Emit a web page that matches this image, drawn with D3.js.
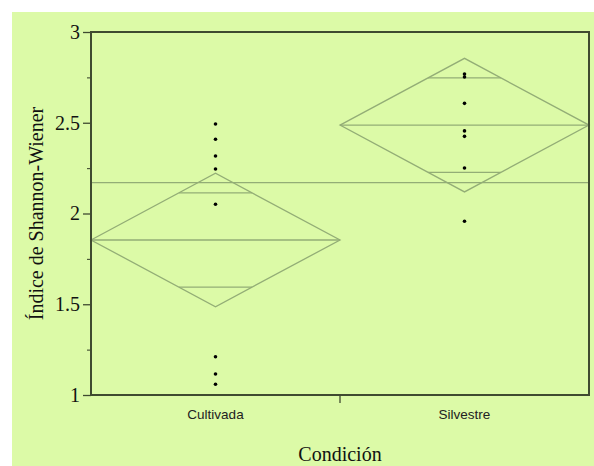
<!DOCTYPE html>
<html>
<head>
<meta charset="utf-8">
<script src="https://cdn.jsdelivr.net/npm/d3@7"></script>
<style>
  html, body { margin: 0; padding: 0; background: #ffffff; }
  svg { display: block; }
</style>
</head>
<body>
<svg id="chart" width="594" height="466"></svg>
<script>
// Groups on the x axis
const categories = ["Cultivada", "Silvestre"];

// Individual observations per group
const cultivadaValues = [2.493, 2.409, 2.317, 2.245, 2.051, 1.211, 1.116, 1.059];
const silvestreValues = [2.768, 2.752, 2.607, 2.455, 2.425, 2.251, 1.957];

// Group means and 95% confidence half-widths (means diamonds)
const groupMeans = [1.854, 2.487];
const ciHalfWidths = [0.3675, 0.368];

// Grand mean across all observations
const grandMean = [2.170];

// Y axis ticks
const yMajorTicks = [1, 1.5, 2, 2.5, 3];
const yMinorTicks = [1.25, 1.75, 2.25, 2.75];

const W = 594, H = 466;
const margin = { left: 91, top: 32, right: 5, bottom: 71 };
const x0 = margin.left, x1 = W - margin.right;
const y0 = margin.top, y1 = H - margin.bottom;

const svg = d3.select("#chart");

// Page background
svg.append("rect")
  .attr("x", 12).attr("y", 12)
  .attr("width", W - 12).attr("height", H - 12)
  .attr("fill", "#dcfaa7");

const x = d3.scaleBand().domain(categories).range([x0, x1]).padding(0);
const y = d3.scaleLinear().domain([1, 3]).range([y1, y0]);

const lineCol = "#93ad76";
const axisCol = "#3f4a30";

const plot = svg.append("g");

// Grand mean line
plot.selectAll("line.grand").data(grandMean).enter().append("line")
  .attr("class", "grand")
  .attr("x1", x0).attr("x2", x1)
  .attr("y1", d => y(d)).attr("y2", d => y(d))
  .attr("stroke", lineCol).attr("stroke-width", 1.3);

// Means diamonds with overlap marks
const groups = categories.map((c, i) => ({ cat: c, mean: groupMeans[i], ci: ciHalfWidths[i] }));
const k = Math.SQRT1_2;
groups.forEach(g => {
  const left = x(g.cat), right = left + x.bandwidth(), mid = left + x.bandwidth() / 2;
  const half = x.bandwidth() / 2;
  const pts = [
    [left, y(g.mean)], [mid, y(g.mean + g.ci)], [right, y(g.mean)], [mid, y(g.mean - g.ci)]
  ];
  plot.append("path")
    .attr("d", d3.line()(pts) + "Z")
    .attr("fill", "none").attr("stroke", lineCol).attr("stroke-width", 1.3);
  // mean line
  plot.append("line")
    .attr("x1", left).attr("x2", right)
    .attr("y1", y(g.mean)).attr("y2", y(g.mean))
    .attr("stroke", lineCol).attr("stroke-width", 1.3);
  // overlap marks
  [1, -1].forEach(s => {
    const v = g.mean + s * g.ci * k;
    const hw = half * (1 - k);
    plot.append("line")
      .attr("x1", mid - hw).attr("x2", mid + hw)
      .attr("y1", y(v)).attr("y2", y(v))
      .attr("stroke", lineCol).attr("stroke-width", 1.3);
  });
});

// Observations
const series = [cultivadaValues, silvestreValues];
series.forEach((vals, i) => {
  const cx = x(categories[i]) + x.bandwidth() / 2;
  plot.selectAll(null).data(vals).enter().append("circle")
    .attr("cx", cx).attr("cy", d => y(d)).attr("r", 1.8)
    .attr("fill", "#000");
});

// Frame
svg.append("rect")
  .attr("x", x0).attr("y", y0)
  .attr("width", x1 - x0).attr("height", y1 - y0)
  .attr("fill", "none").attr("stroke", axisCol).attr("stroke-width", 2);

// Y axis
const yAxis = d3.axisLeft(y).tickValues(yMajorTicks)
  .tickFormat(d3.format("")).tickSize(8).tickPadding(3);
const gy = svg.append("g").attr("transform", `translate(${x0},0)`).call(yAxis);
gy.select(".domain").remove();
gy.selectAll(".tick line").attr("stroke", axisCol).attr("stroke-width", 1.3);
gy.selectAll(".tick text")
  .attr("fill", "#111").attr("font-family", "'Liberation Serif', 'Times New Roman', serif")
  .attr("font-size", 20);

const yMinor = d3.axisLeft(y).tickValues(yMinorTicks).tickSize(4).tickFormat("");
const gym = svg.append("g").attr("transform", `translate(${x0},0)`).call(yMinor);
gym.select(".domain").remove();
gym.selectAll(".tick line").attr("stroke", axisCol).attr("stroke-width", 1.1);

// X axis: category labels and boundary tick
const gx = svg.append("g").attr("transform", `translate(0,${y1})`);
gx.selectAll("text").data(categories).enter().append("text")
  .attr("x", d => x(d) + x.bandwidth() / 2)
  .attr("y", 24)
  .attr("text-anchor", "middle")
  .attr("font-family", "'Liberation Sans', Arial, sans-serif")
  .attr("font-size", 13.5)
  .attr("fill", "#222")
  .text(d => d);
gx.selectAll("line.sep").data(categories.slice(1)).enter().append("line")
  .attr("class", "sep")
  .attr("x1", d => x(d)).attr("x2", d => x(d))
  .attr("y1", 0).attr("y2", 8)
  .attr("stroke", axisCol).attr("stroke-width", 1.3);

// Axis titles
svg.append("text")
  .attr("transform", `translate(43,${(y0 + y1) / 2}) rotate(-90)`)
  .attr("text-anchor", "middle")
  .attr("font-family", "'Liberation Serif', 'Times New Roman', serif")
  .attr("font-size", 20).attr("fill", "#111")
  .text("Índice de Shannon-Wiener");

svg.append("text")
  .attr("x", (x0 + x1) / 2).attr("y", 461)
  .attr("text-anchor", "middle")
  .attr("font-family", "'Liberation Serif', 'Times New Roman', serif")
  .attr("font-size", 20).attr("fill", "#111")
  .text("Condición");
</script>
</body>
</html>
